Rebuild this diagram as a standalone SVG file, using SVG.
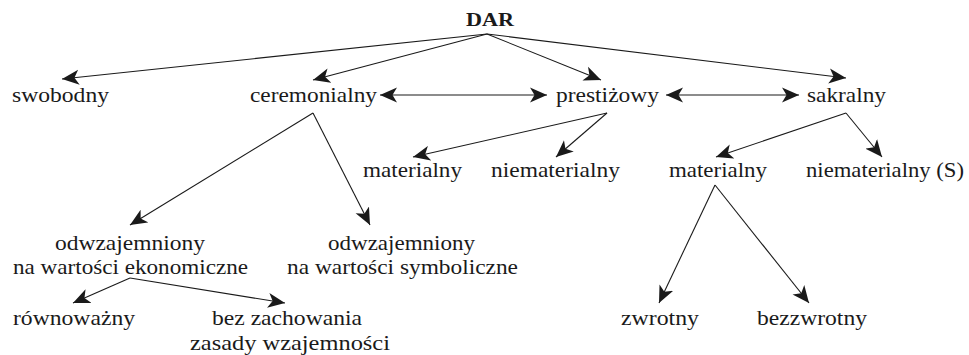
<svg xmlns="http://www.w3.org/2000/svg" width="969" height="355" viewBox="0 0 969 355">
<style>
text{font-family:"Liberation Serif","Times New Roman",serif;font-size:21px;fill:#1a1a1a}
.b{font-weight:bold;font-size:19px}
line{stroke:#1a1a1a;stroke-width:1.1;fill:none}
</style>
<defs>
<marker id="ah" markerUnits="userSpaceOnUse" markerWidth="19" markerHeight="16" refX="17" refY="8" orient="auto-start-reverse" viewBox="0 0 19 16">
<path d="M0,0.5 L17,8 L0,15.5 L4.5,8 z" fill="#1a1a1a"/>
</marker>
</defs>
<rect width="969" height="355" fill="#fff"/>
<g id="n-dar"><text class="b" x="466" y="26" textLength="48" lengthAdjust="spacingAndGlyphs">DAR</text></g>
<g id="n-swobodny"><text x="12" y="102" textLength="97" lengthAdjust="spacingAndGlyphs">swobodny</text></g>
<g id="n-ceremonialny"><text x="250" y="102" textLength="127" lengthAdjust="spacingAndGlyphs">ceremonialny</text></g>
<g id="n-prestizowy"><text x="556" y="102" textLength="103" lengthAdjust="spacingAndGlyphs">prestiżowy</text></g>
<g id="n-sakralny"><text x="807" y="102" textLength="79" lengthAdjust="spacingAndGlyphs">sakralny</text></g>
<g id="n-materialny1"><text x="363" y="177" textLength="99" lengthAdjust="spacingAndGlyphs">materialny</text></g>
<g id="n-niematerialny1"><text x="491" y="177" textLength="129" lengthAdjust="spacingAndGlyphs">niematerialny</text></g>
<g id="n-materialny2"><text x="669" y="177" textLength="98" lengthAdjust="spacingAndGlyphs">materialny</text></g>
<g id="n-niematerialnyS"><text x="806" y="177" textLength="158" lengthAdjust="spacingAndGlyphs">niematerialny (S)</text></g>
<g id="n-odw-ekon">
<text x="55" y="250" textLength="150" lengthAdjust="spacingAndGlyphs">odwzajemniony</text>
<text x="13" y="274" textLength="235" lengthAdjust="spacingAndGlyphs">na wartości ekonomiczne</text>
</g>
<g id="n-odw-symb">
<text x="328" y="250" textLength="147" lengthAdjust="spacingAndGlyphs">odwzajemniony</text>
<text x="287" y="274" textLength="231" lengthAdjust="spacingAndGlyphs">na wartości symboliczne</text>
</g>
<g id="n-rownowazny"><text x="13" y="325" textLength="122" lengthAdjust="spacingAndGlyphs">równoważny</text></g>
<g id="n-bez">
<text x="212" y="325" textLength="150" lengthAdjust="spacingAndGlyphs">bez zachowania</text>
<text x="190" y="350" textLength="200" lengthAdjust="spacingAndGlyphs">zasady wzajemności</text>
</g>
<g id="n-zwrotny"><text x="621" y="325" textLength="78" lengthAdjust="spacingAndGlyphs">zwrotny</text></g>
<g id="n-bezzwrotny"><text x="757" y="325" textLength="110" lengthAdjust="spacingAndGlyphs">bezzwrotny</text></g>
<g id="connectors">
<line x1="487" y1="34" x2="62" y2="79" marker-end="url(#ah)"/>
<line x1="487" y1="34" x2="313" y2="80" marker-end="url(#ah)"/>
<line x1="487" y1="34" x2="601" y2="80" marker-end="url(#ah)"/>
<line x1="487" y1="34" x2="846" y2="78" marker-end="url(#ah)"/>
<line x1="380" y1="95" x2="547" y2="95" marker-start="url(#ah)" marker-end="url(#ah)"/>
<line x1="666" y1="95" x2="799" y2="95" marker-start="url(#ah)" marker-end="url(#ah)"/>
<line x1="313" y1="113" x2="130" y2="225" marker-end="url(#ah)"/>
<line x1="313" y1="113" x2="370" y2="225" marker-end="url(#ah)"/>
<line x1="607" y1="113" x2="413" y2="157" marker-end="url(#ah)"/>
<line x1="607" y1="113" x2="556" y2="157" marker-end="url(#ah)"/>
<line x1="846" y1="113" x2="716" y2="157" marker-end="url(#ah)"/>
<line x1="846" y1="113" x2="882" y2="157" marker-end="url(#ah)"/>
<line x1="715" y1="185" x2="659" y2="303" marker-end="url(#ah)"/>
<line x1="715" y1="185" x2="809" y2="303" marker-end="url(#ah)"/>
<line x1="130" y1="278" x2="73" y2="303" marker-end="url(#ah)"/>
<line x1="130" y1="278" x2="285" y2="303" marker-end="url(#ah)"/>
</g>
</svg>
